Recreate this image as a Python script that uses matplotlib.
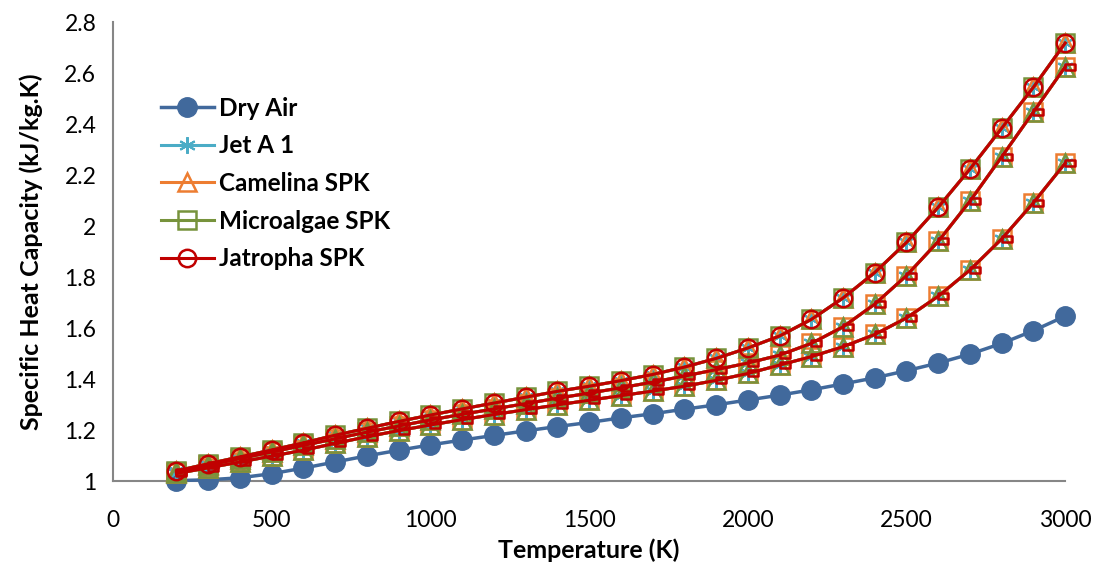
import matplotlib.pyplot as plt
from matplotlib.path import Path

plt.rcParams['font.family'] = ['Lato', 'DejaVu Sans']

# temperature points (K)
temperature = [200, 300, 400, 500, 600, 700, 800, 900, 1000, 1100, 1200, 1300, 1400, 1500,
               1600, 1700, 1800, 1900, 2000, 2100, 2200, 2300, 2400, 2500, 2600, 2700,
               2800, 2900, 3000]

# dry air cp (kJ/kg.K)
cp_dry_air = [1.002, 1.005, 1.013, 1.029, 1.051, 1.075, 1.099, 1.121, 1.142, 1.161, 1.179,
              1.197, 1.214, 1.230, 1.248, 1.264, 1.282, 1.299, 1.318, 1.337, 1.358, 1.381,
              1.405, 1.433, 1.463, 1.498, 1.540, 1.590, 1.647]

# the four fuels sit on top of each other in the picture, three curves each
cp_fuel_upper = [1.040, 1.068, 1.095, 1.122, 1.150, 1.180, 1.207, 1.234, 1.259, 1.283, 1.306,
                 1.329, 1.352, 1.372, 1.394, 1.418, 1.447, 1.481, 1.522, 1.569, 1.634, 1.718,
                 1.818, 1.936, 2.074, 2.224, 2.384, 2.545, 2.718]
cp_fuel_middle = [1.035, 1.062, 1.088, 1.114, 1.140, 1.166, 1.192, 1.216, 1.240, 1.262, 1.283,
                  1.304, 1.325, 1.345, 1.366, 1.388, 1.412, 1.437, 1.463, 1.494, 1.540, 1.605,
                  1.694, 1.806, 1.940, 2.098, 2.272, 2.448, 2.625]
cp_fuel_lower = [1.030, 1.052, 1.075, 1.098, 1.121, 1.148, 1.174, 1.198, 1.220, 1.241, 1.261,
                 1.280, 1.299, 1.317, 1.335, 1.353, 1.372, 1.395, 1.422, 1.455, 1.488, 1.527,
                 1.575, 1.640, 1.725, 1.828, 1.950, 2.092, 2.247]

fuels = ['Jet A 1', 'Camelina SPK', 'Microalgae SPK', 'Jatropha SPK']
fuel_colors = ['#4BACC6', '#ED7D31', '#77933C', '#C00000']

# small offset rectangle used on the red mid/low curves
rect_marker = Path([(0, -0.3), (1, -0.3), (1, 0.3), (0, 0.3), (0, -0.3)],
                   [Path.MOVETO, Path.LINETO, Path.LINETO, Path.LINETO, Path.CLOSEPOLY])
star = (6, 2, 0)

# marker per fuel for (upper, middle, lower) curves, as seen in the picture
fuel_markers = [[star, star, star],
                ['^', 's', 's'],
                ['s', '^', '^'],
                ['o', rect_marker, rect_marker]]

fig = plt.figure(figsize=(10.97, 5.68), dpi=100)
ax = fig.add_axes([0.103, 0.153, 0.868, 0.808])

ax.plot(temperature, cp_dry_air, color='#41699C', lw=2.5, marker='o', markersize=14,
        label='Dry Air', zorder=3, clip_on=False)

curves = [cp_fuel_upper, cp_fuel_middle, cp_fuel_lower]
for name, col, mks in zip(fuels, fuel_colors, fuel_markers):
    for k, cp in enumerate(curves):
        m = mks[k]
        ms = 12.5
        mew = 1.8
        if m is rect_marker:
            ms = 15
        if m == star:
            ms = 12
            mew = 1.5
        ax.plot(temperature, cp, color=col, lw=2.2, marker=m, markersize=ms,
                markerfacecolor='none', markeredgewidth=mew, clip_on=False,
                label=name if k == 0 else None, zorder=5 if col == '#C00000' else 4)

ax.set_xlim(0, 3000)
ax.set_ylim(1, 2.8)
ax.set_xticks([0, 500, 1000, 1500, 2000, 2500, 3000])
ax.set_yticks([1, 1.2, 1.4, 1.6, 1.8, 2, 2.2, 2.4, 2.6, 2.8])
ax.set_yticklabels(['1', '1.2', '1.4', '1.6', '1.8', '2', '2.2', '2.4', '2.6', '2.8'])
ax.tick_params(length=0, labelsize=16.5)
ax.tick_params(axis='x', pad=21)
ax.tick_params(axis='y', pad=12)
for s in ['top', 'right']:
    ax.spines[s].set_visible(False)
for s in ['left', 'bottom']:
    ax.spines[s].set_color('#868686')
    ax.spines[s].set_linewidth(1.5)

ax.set_xlabel('Temperature (K)', fontsize=18, fontweight='bold', labelpad=5)
ax.set_ylabel('Specific Heat Capacity (kJ/kg.K)', fontsize=18, fontweight='bold', labelpad=15)

leg = ax.legend(loc='upper left', bbox_to_anchor=(0.027, 0.885), frameon=False,
                prop={'weight': 'bold', 'size': 17.5}, handlelength=2.2,
                handletextpad=0.2, labelspacing=0.6)

fig.savefig('out.png', dpi=100)
